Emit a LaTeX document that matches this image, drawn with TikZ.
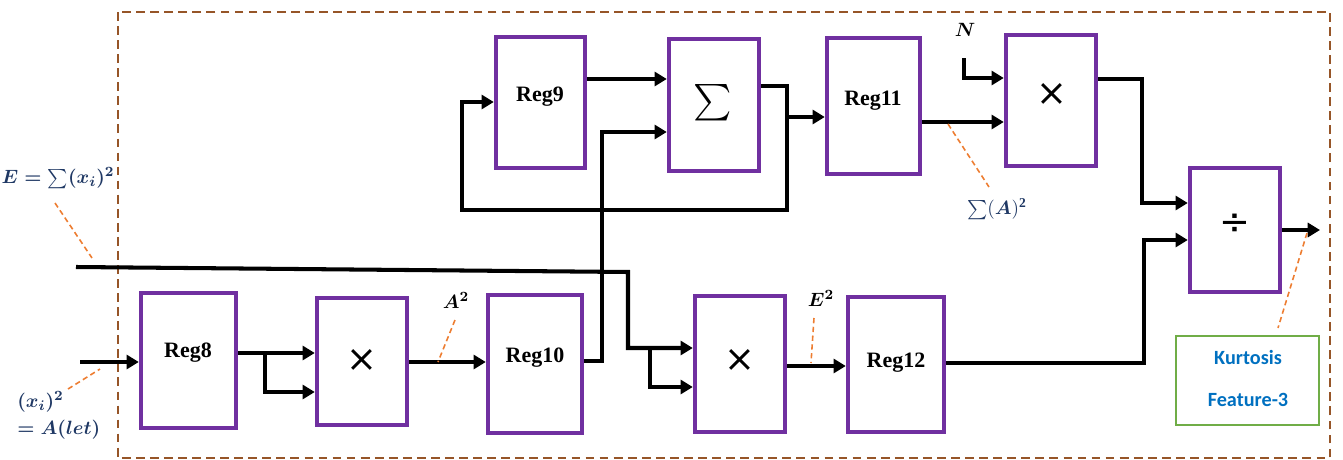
\documentclass[tikz,border=0pt]{standalone}
\usepackage{fontspec}
\usepackage{amsmath}
\setmainfont{Liberation Serif}
\newfontfamily\calib{Carlito}
\newfontfamily\djv{DejaVu Sans}
\usetikzlibrary{arrows.meta,fit}
\definecolor{regpurple}{RGB}{112,48,160}
\definecolor{framebrown}{RGB}{150,85,40}
\definecolor{annorange}{RGB}{237,125,49}
\definecolor{labnavy}{RGB}{31,56,100}
\definecolor{kgreen}{RGB}{112,173,71}
\definecolor{kblue}{RGB}{0,112,192}
\begin{document}
\begin{tikzpicture}[x=0.02cm,y=-0.02cm,
 blk/.style={draw=regpurple,line width=2.5pt,inner sep=0pt},
 regtxt/.style={font=\fontsize{12.5}{14}\selectfont\bfseries,inner sep=0pt},
 optxt/.style={font=\djv\fontsize{21}{25}\selectfont,inner sep=0pt},
 arr/.style={line width=2.3pt,-{Triangle[length=7pt,width=8pt]}},
 wire/.style={line width=2.3pt},
 anno/.style={draw=annorange,line width=0.9pt,dash pattern=on 3pt off 2pt},
 mlab/.style={font=\fontsize{11}{13}\selectfont,inner sep=0pt},
 ktxt/.style={text=kblue,font=\calib\bfseries\fontsize{11.5}{13}\selectfont,inner sep=0pt},
]
\useasboundingbox (0,0) rectangle (1343,460);
\draw[framebrown,line width=1.2pt,dash pattern=on 5pt off 3pt] (118,12) rectangle (1330,458);

% blocks
\node[blk,fit={(141,293)(236,428)}] (reg8) {};
\node[blk,fit={(317,298)(407,425)}] (mul1) {};
\node[blk,fit={(488,295)(582,433)}] (reg10) {};
\node[blk,fit={(695,296)(785,432)}] (mul2) {};
\node[blk,fit={(848,297)(944,432)}] (reg12) {};
\node[blk,fit={(496,37)(585,168)}] (reg9) {};
\node[blk,fit={(669,39)(759,171)}] (sum) {};
\node[blk,fit={(827,38)(920,174)}] (reg11) {};
\node[blk,fit={(1006,35)(1096,166)}] (mul3) {};
\node[blk,fit={(1190,168)(1280,292)}] (div) {};
\node[draw=kgreen,line width=1.2pt,inner sep=0pt,fit={(1176,336)(1319,425)}] (kbox) {};

% block texts
\node[regtxt] (t8) at (188,353) {Reg8};
\node[regtxt] (t9) at (540,97) {Reg9};
\node[regtxt] (t10) at (535,358) {Reg10};
\node[regtxt] (t11) at (873,101) {Reg11};
\node[regtxt] (t12) at (896,363) {Reg12};
\node[optxt] (x1) at (362,360) {×};
\node[optxt] (x2) at (740,360) {×};
\node[optxt] (x3) at (1052,94) {×};
\node[optxt] (dv) at (1235,224) {÷};
\node[optxt,font=\fontsize{20}{24}\selectfont] (sg) at (713,103) {$\sum$};
\node[ktxt] (k1) at (1248,357) {Kurtosis};
\node[ktxt] (k2) at (1248,400) {Feature-3};

% labels
\node[mlab,text=labnavy] (le) at (58,178) {$\boldsymbol{E=\sum(x_i)^2}$};
\node[mlab,text=labnavy,anchor=west] (la1) at (17,402) {$\boldsymbol{(x_i)^2}$};
\node[mlab,text=labnavy,anchor=west] (la2) at (17,430) {$\boldsymbol{=A(let)}$};
\node[mlab] (lA2) at (456,300) {$\boldsymbol{A^2}$};
\node[mlab] (lE2) at (821,298) {$\boldsymbol{E^2}$};
\node[mlab,text=labnavy] (lsA) at (997,209) {$\sum(\boldsymbol{A})^{\mathbf{2}}$};
\node[mlab] (lN) at (965,30) {$\boldsymbol{N}$};

% coordinates
\coordinate (ain) at (80,362);
\coordinate (br1) at (265,353);
\coordinate (j1) at (602,132);
\coordinate (ein) at (76,267);
\coordinate (ej) at (628,272);
\coordinate (br2) at (650,348);
\coordinate (s1) at (787,117);
\coordinate (s2) at (787,210);
\coordinate (s3) at (462,102);
\coordinate (nin) at (964,58);
\coordinate (m3) at (1142,203);
\coordinate (r12) at (1144,240);
\coordinate (out) at (1320,230);

% connectors
\draw[arr] (ain) -- (reg8.west |- ain);
\draw[arr] (reg8.east |- br1) -- (mul1.west |- br1);
\draw[arr] (br1) |- (mul1.west |- 0,392);
\draw[arr] (mul1.east |- 0,362) -- (reg10.west |- 0,362);
\draw[arr] (reg10.east |- 0,361) -| (j1) -- (sum.west |- j1);
\draw[arr] (ein) -- (ej) |- (mul2.west |- br2);
\draw[arr] (br2) |- (mul2.west |- 0,387);
\draw[arr] (mul2.east |- 0,366) -- (reg12.west |- 0,366);
\draw[arr] (reg9.east |- 0,79) -- (sum.west |- 0,79);
\draw[arr] (sum.east |- 0,86) -| (s1) -- (reg11.west |- s1);
\draw[arr] (s1) -- (s2) -| (s3) -- (reg9.west |- s3);
\draw[arr] (reg11.east |- 0,122) -- (mul3.west |- 0,122);
\draw[arr] (nin) |- (mul3.west |- 0,78);
\draw[arr] (mul3.east |- 0,79) -| (m3) -- (div.west |- m3);
\draw[arr] (reg12.east |- 0,363) -| (r12) -- (div.west |- r12);
\draw[arr] (div.east |- out) -- (out);

% annotation lines
\draw[anno] (55,203) -- (92,258);
\draw[anno] (68,389) -- (100,369);
\draw[anno] (455,320) -- (438,362);
\draw[anno] (814,318) -- (811,363);
\draw[anno] (948,124) -- (989,187);
\draw[anno] (1307,233) -- (1278,328);
\end{tikzpicture}
\end{document}
